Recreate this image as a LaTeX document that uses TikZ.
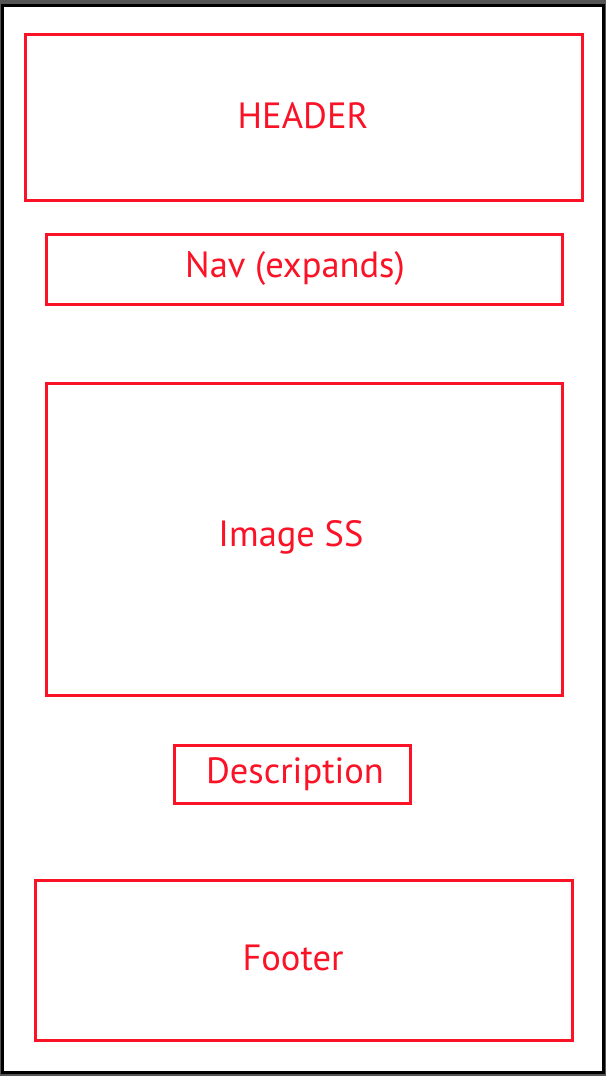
\documentclass[tikz,border=0pt]{standalone}
\usepackage{fontspec}
\setmainfont{PT Sans}
\definecolor{wirered}{RGB}{250,18,38}
\definecolor{framegray}{RGB}{85,85,85}
\begin{document}
\begin{tikzpicture}[x=1pt,y=-1pt,
  region/.style={draw=wirered,line width=3pt},
  label/.style={text=wirered,font=\fontsize{36.5}{42}\selectfont,inner sep=0pt,anchor=center}]
% page background and outer frame
\fill[framegray] (0,0) rectangle (606,1076);
\useasboundingbox (0,0) rectangle (606,1076);
\filldraw[fill=white,draw=black,line width=3pt] (2.5,5.5) rectangle (603.5,1072.5);
% layout regions
\draw[region] (25,34) rectangle (582,200);
\draw[region] (46,234) rectangle (562,304);
\draw[region] (46,383) rectangle (562,695);
\draw[region] (174,745) rectangle (410,803);
\draw[region] (35,880) rectangle (572,1040);
% region labels
\node[label] (header) at (303,116) {HEADER};
\node[label] (nav) at (295,269) {Nav (expands)};
\node[label] (image) at (291,537) {Image SS};
\node[label] (desc) at (295,774) {Description};
\node[label] (footer) at (293,958) {Footer};
\end{tikzpicture}
\end{document}
